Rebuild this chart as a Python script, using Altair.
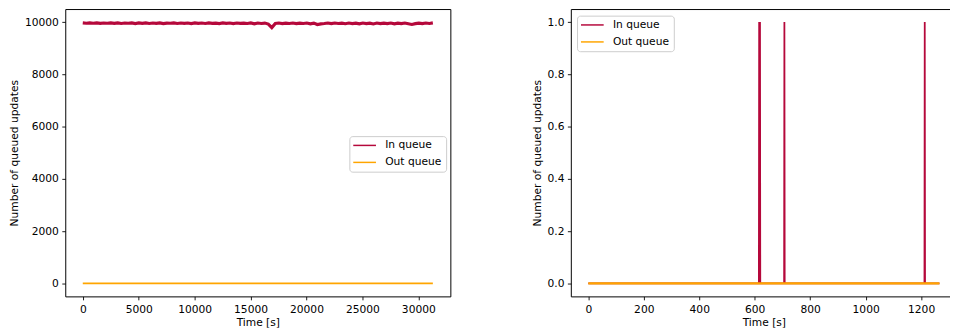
import altair as alt
import pandas as pd

# ---- data ----
left_in_t = [0, 313, 626, 939, 1252, 1565, 1878, 2191, 2504, 2817,
             3130, 3443, 3756, 4069, 4382, 4695, 5008, 5321, 5634, 5947,
             6260, 6573, 6886, 7199, 7512, 7825, 8138, 8451, 8764, 9077,
             9390, 9703, 10016, 10329, 10642, 10955, 11268, 11581, 11894, 12207,
             12520, 12833, 13146, 13459, 13772, 14085, 14398, 14711, 15024, 15337,
             15650, 15963, 16276, 16589, 16902, 17215, 17528, 17841, 18154, 18467,
             18780, 19093, 19406, 19719, 20032, 20345, 20658, 20971, 21284, 21597,
             21910, 22223, 22536, 22849, 23162, 23475, 23788, 24101, 24414, 24727,
             25040, 25353, 25666, 25979, 26292, 26605, 26918, 27231, 27544, 27857,
             28170, 28483, 28796, 29109, 29422, 29735, 30048, 30361, 30674, 30987,
             31300]
left_in_v = [9972, 9958, 9968, 9955, 9970, 9952, 9966, 9957, 9969, 9950,
             9971, 9948, 9965, 9956, 9968, 9945, 9967, 9952, 9970, 9948,
             9965, 9950, 9969, 9942, 9963, 9955, 9968, 9946, 9966, 9950,
             9964, 9944, 9969, 9950, 9965, 9946, 9967, 9952, 9963, 9944,
             9968, 9950, 9964, 9942, 9966, 9952, 9962, 9946, 9967, 9935,
             9965, 9948, 9963, 9925, 9790, 9950, 9966, 9944, 9962, 9948,
             9965, 9940, 9961, 9946, 9964, 9935, 9960, 9905, 9930, 9945,
             9964, 9940, 9966, 9948, 9961, 9938, 9964, 9945, 9962, 9934,
             9966, 9942, 9961, 9928, 9964, 9940, 9962, 9945, 9966, 9932,
             9960, 9942, 9965, 9936, 9910, 9940, 9963, 9942, 9965, 9948,
             9970]
left_out_t = [0, 31300]
left_out_v = [0, 0]

right_in_t = [0, 615, 616, 617, 618, 619, 620, 706, 707, 708, 1212, 1213, 1214, 1266]
right_in_v = [0, 0, 1, 0, 0, 1, 0, 0, 1, 0, 0, 1, 0, 0]
right_out_t = [0, 1266]
right_out_v = [0, 0]

series_names = ["In queue", "Out queue"]
series_colors = ["#b5083b", "#ffa500"]

left_x_ticks = [0, 5000, 10000, 15000, 20000, 25000, 30000]
left_y_ticks = [0, 2000, 4000, 6000, 8000, 10000]
right_x_ticks = [0, 200, 400, 600, 800, 1000, 1200]
right_y_ticks = [0.0, 0.2, 0.4, 0.6, 0.8, 1.0]


def frame(ts, vs, name, sw):
    return pd.DataFrame({"t": ts, "v": vs, "series": name, "sw": sw})


left_df = pd.concat([frame(left_in_t, left_in_v, "In queue", 3.2),
                     frame(left_out_t, left_out_v, "Out queue", 1.8)], ignore_index=True)
left_df["order"] = range(len(left_df))
right_df = pd.concat([frame(right_in_t, right_in_v, "In queue", 1.8),
                      frame(right_out_t, right_out_v, "Out queue", 2.3)], ignore_index=True)
right_df["order"] = range(len(right_df))

FONT = "DejaVu Sans"
FS = 10.8


def panel(df, xdom, ydom, xt, yt, yfmt, lx, ly, w):
    return alt.Chart(df).mark_line(clip=True).encode(
        x=alt.X("t:Q", scale=alt.Scale(domain=xdom, nice=False, zero=False),
                axis=alt.Axis(values=xt, format="d", title="Time [s]")),
        y=alt.Y("v:Q", scale=alt.Scale(domain=ydom, nice=False, zero=False),
                axis=alt.Axis(values=yt, format=yfmt, title="Number of queued updates")),
        color=alt.Color("series:N",
                        scale=alt.Scale(domain=series_names, range=series_colors),
                        legend=alt.Legend(title=None, orient="none", legendX=lx, legendY=ly,
                                          symbolType="M-1.36,0L4.39,0", symbolSize=64,
                                          symbolStrokeWidth=1.5, labelOffset=21.5,
                                          rowPadding=5.2, padding=4,
                                          strokeColor="#cccccc", fillColor="rgba(255,255,255,0.8)",
                                          cornerRadius=3, labelFont=FONT, labelFontSize=FS,
                                          labelColor="black")),
        strokeWidth=alt.StrokeWidth("sw:Q", scale=None),
        detail="series:N",
        order="order:Q",
    ).properties(width=w, height=291)


left = panel(left_df, [-1565, 32865], [-500, 10500], left_x_ticks, left_y_ticks, "d",
             287.7, 128.7, 390)
right = panel(right_df, [-63, 1329], [-0.05, 1.05], right_x_ticks, right_y_ticks, ".1f",
              6.3, 6.7, 391)

chart = alt.hconcat(left, right, spacing=80).resolve_scale(
    color="independent").resolve_legend(color="independent").properties(
    padding={"left": 0, "top": -2, "right": -8, "bottom": 0}
).configure_view(stroke="black", strokeWidth=1).configure_axis(
    domain=False, grid=False, tickColor="black", tickWidth=0.9, tickSize=3.5,
    labelFont=FONT, labelFontSize=FS, labelColor="black", labelPadding=3.5,
    titleFont=FONT, titleFontSize=FS, titleColor="black", titleFontWeight="normal",
).configure_axisX(titlePadding=3).configure_axisY(titlePadding=5)

chart.save("out.html", embed_options={"renderer": "svg", "actions": False})
